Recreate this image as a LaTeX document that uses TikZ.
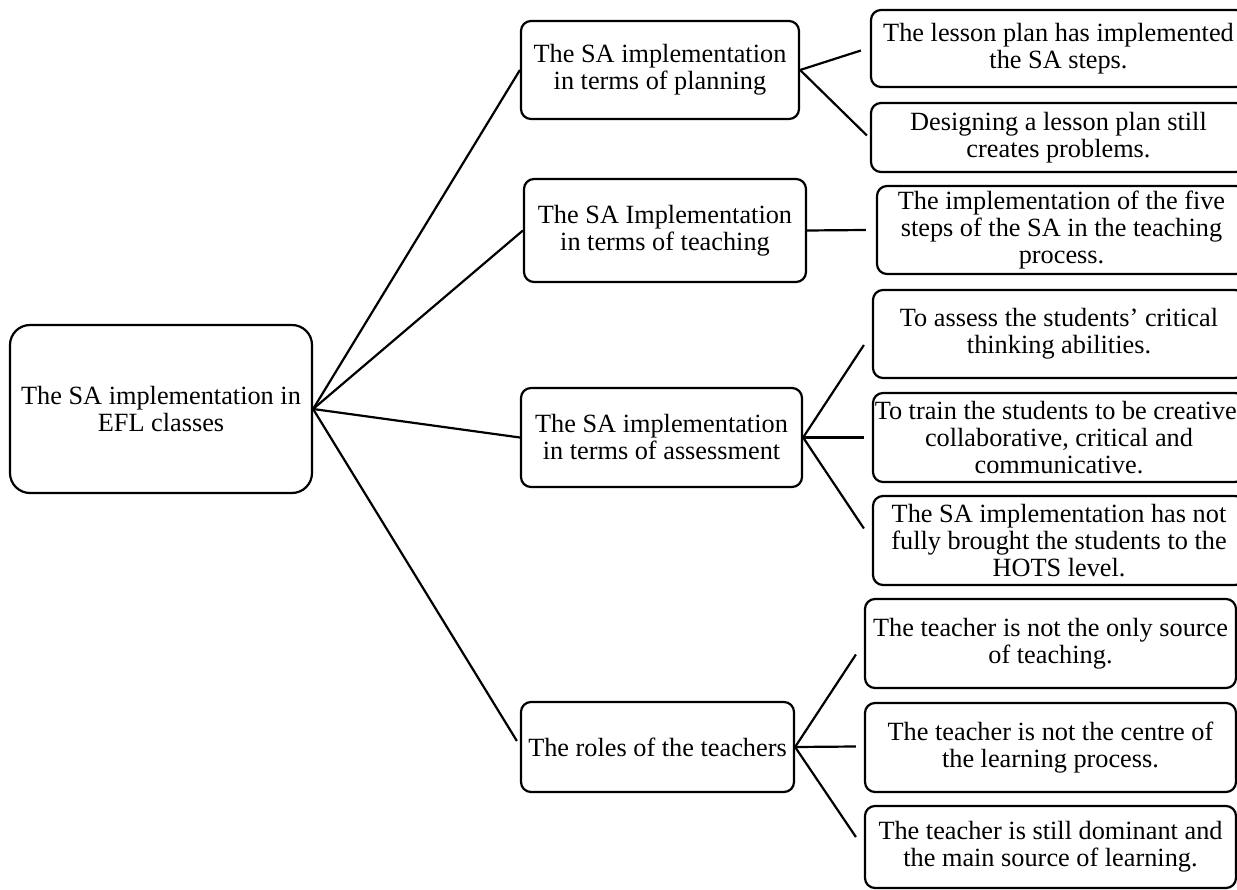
\documentclass[tikz,border=0pt]{standalone}
\usepackage{fontspec}
\setmainfont{Liberation Serif}
\usetikzlibrary{calc}
\begin{document}
\begin{tikzpicture}[x=1pt,y=-1pt,
  box/.style={draw, line width=2.2pt, rounded corners=10pt, inner sep=0pt,
    align=center, font=\fontsize{26.3}{27}\selectfont},
  link/.style={line width=2.2pt}]
\useasboundingbox (0,0) rectangle (1237,890);
\clip (0,0) rectangle (1237,890);

% root
\node[box, rounded corners=20pt, minimum width=302pt, minimum height=168pt] (root) at (161,409)
  {The SA implementation in\\EFL classes};

% second level
\node[box, minimum width=278pt, minimum height=98pt] (b1) at (660,70)
  {The SA implementation\\in terms of planning};
\node[box, minimum width=282pt, minimum height=103pt] (b2) at (665,230.5)
  {The SA Implementation\\in terms of teaching};
\node[box, minimum width=281pt, minimum height=99pt] (b3) at (661.5,437.5)
  {The SA implementation\\in terms of assessment};
\node[box, minimum width=273pt, minimum height=90pt] (b4) at (657.5,747)
  {The roles of the teachers};

% third level
\node[box, minimum width=375pt, minimum height=77pt] (c1) at (1058.5,48.5)
  {The lesson plan has implemented\\the SA steps.};
\node[box, minimum width=375pt, minimum height=69pt] (c2) at (1058.5,137.5)
  {Designing a lesson plan still\\creates problems.};
\node[box, minimum width=369pt, minimum height=88pt] (c3) at (1061.5,230)
  {The implementation of the five\\steps of the SA in the teaching\\process.};
\node[box, minimum width=372pt, minimum height=88pt] (c4) at (1059,334)
  {To assess the students’ critical\\thinking abilities.};
\node[box, minimum width=372pt, minimum height=89pt] (c5) at (1059,437.5)
  {To train the students to be creative,\\collaborative, critical and\\communicative.};
\node[box, minimum width=372pt, minimum height=89pt] (c6) at (1059,540.5)
  {The SA implementation has not\\fully brought the students to the\\HOTS level.};
\node[box, minimum width=371pt, minimum height=89pt] (c7) at (1050.5,643.5)
  {The teacher is not the only source\\of teaching.};
\node[box, minimum width=371pt, minimum height=89pt] (c8) at (1050.5,747.5)
  {The teacher is not the centre of\\the learning process.};
\node[box, minimum width=371pt, minimum height=82pt] (c9) at (1050.5,847)
  {The teacher is still dominant and\\the main source of learning.};

% root to second level
\draw[link] (root.east) -- (b1.west);
\draw[link] (root.east) -- (b2.west);
\draw[link] (root.east) -- (b3.west);
\draw[link] (root.east) -- ($(b4.west)+(-3,-6)$);

% second to third level
\draw[link] (b1.east) -- ($(c1.west)+(-9,2)$);
\draw[link] (b1.east) -- ($(c2.west)+(-3,-2)$);
\draw[link] (b2.east) -- ($(c3.west)+(-10,0)$);
\draw[link] (b3.east) -- ($(c4.west)+(-8,11)$);
\draw[link] (b3.east) -- ($(c5.west)+(-8,0)$);
\draw[link] (b3.east) -- ($(c6.west)+(-8,-12)$);
\draw[link] (b4.east) -- ($(c7.west)+(-8,11)$);
\draw[link] (b4.east) -- ($(c8.west)+(-8,-1)$);
\draw[link] (b4.east) -- ($(c9.west)+(-8,-10)$);
\end{tikzpicture}
\end{document}
